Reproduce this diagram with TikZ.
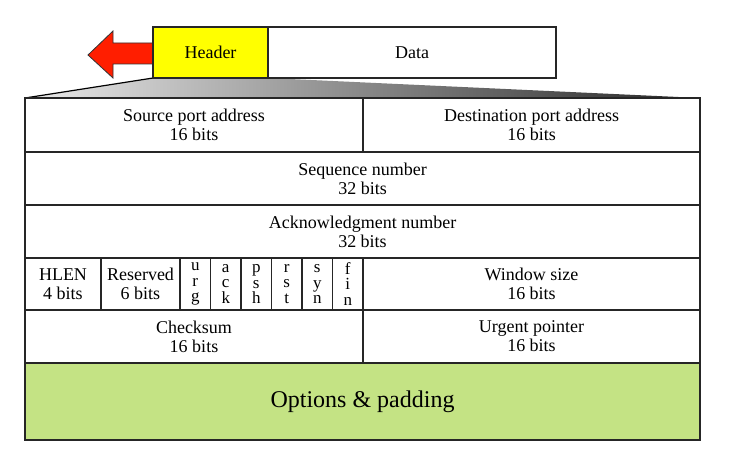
\documentclass[tikz,border=0pt]{standalone}
\usepackage{fontspec}
\setmainfont{Liberation Serif}
\usetikzlibrary{positioning}

\definecolor{hdryellow}{RGB}{255,255,0}
\definecolor{arrowred}{RGB}{255,30,0}
\definecolor{optgreen}{RGB}{196,227,132}

\begin{document}
\begin{tikzpicture}[x=1pt,y=-1pt,line width=1.2pt,
        field/.style={draw=black!85,inner sep=0pt,outer sep=0pt,align=center,
            font=\fontsize{18}{19}\selectfont},
        flag/.style={field,minimum width=30.5,minimum height=52,
            font=\fontsize{17}{15.6}\selectfont}]
            \useasboundingbox (0,0) rectangle (730,465);
            % segment on top
            \shade[left color=black!8,right color=black!85] 
                (153,78) -- (268,78) -- (700,98) -- (25,98) -- cycle;
            \draw[black] (153,78) -- (25,98);
            \filldraw[fill=arrowred,draw=black!80,line width=0.8pt] (88,55) -- (113,31) -- (113,43)
                -- (153,43) -- (153,64) -- (113,64) -- (113,78) -- cycle;
            \node[field,fill=hdryellow,minimum width=115,minimum height=51] (header) at (210.5,52.5) {Header};
            \node[field,minimum width=288,minimum height=51] (data) at (412,52.5) {Data};
            % header fields
            \node[field,minimum width=338,minimum height=54] (srcport) at (194,125) {Source port address\\16 bits};
            \node[field,minimum width=337,minimum height=54] (dstport) at (531.5,125) {Destination port address\\16 bits};
            \node[field,minimum width=675,minimum height=53] (seqnum) at (362.5,178.5) {Sequence number\\32 bits};
            \node[field,minimum width=675,minimum height=53] (acknum) at (362.5,231.5) {Acknowledgment number\\32 bits};
            \node[field,minimum width=76,minimum height=52] (hlen) at (63,284) {HLEN\\4 bits};
            \node[field,minimum width=79,minimum height=52] (reserved) at (140.5,284) {Reserved\\6 bits};
            \foreach \a/\b/\c [count=\i] in {u/r/g,a/c/k,p/s/h,r/s/t,s/y/n,f/i/n}
                \node[flag] (flag\i) at ({180+30.5*(\i-0.5)},284) {\a\\\b\\\c};
            \node[field,minimum width=337,minimum height=52] (window) at (531.5,284) {Window size\\16 bits};
            \node[field,minimum width=338,minimum height=53] (checksum) at (194,336.5) {Checksum\\16 bits};
            \node[field,minimum width=337,minimum height=53] (urgent) at (531.5,336.5) {Urgent pointer\\16 bits};
            \node[field,fill=optgreen,minimum width=675,minimum height=77,
                font=\fontsize{24}{26}\selectfont] (options) at (362.5,401.5) {Options \& padding};
        \end{tikzpicture}
\end{document}
